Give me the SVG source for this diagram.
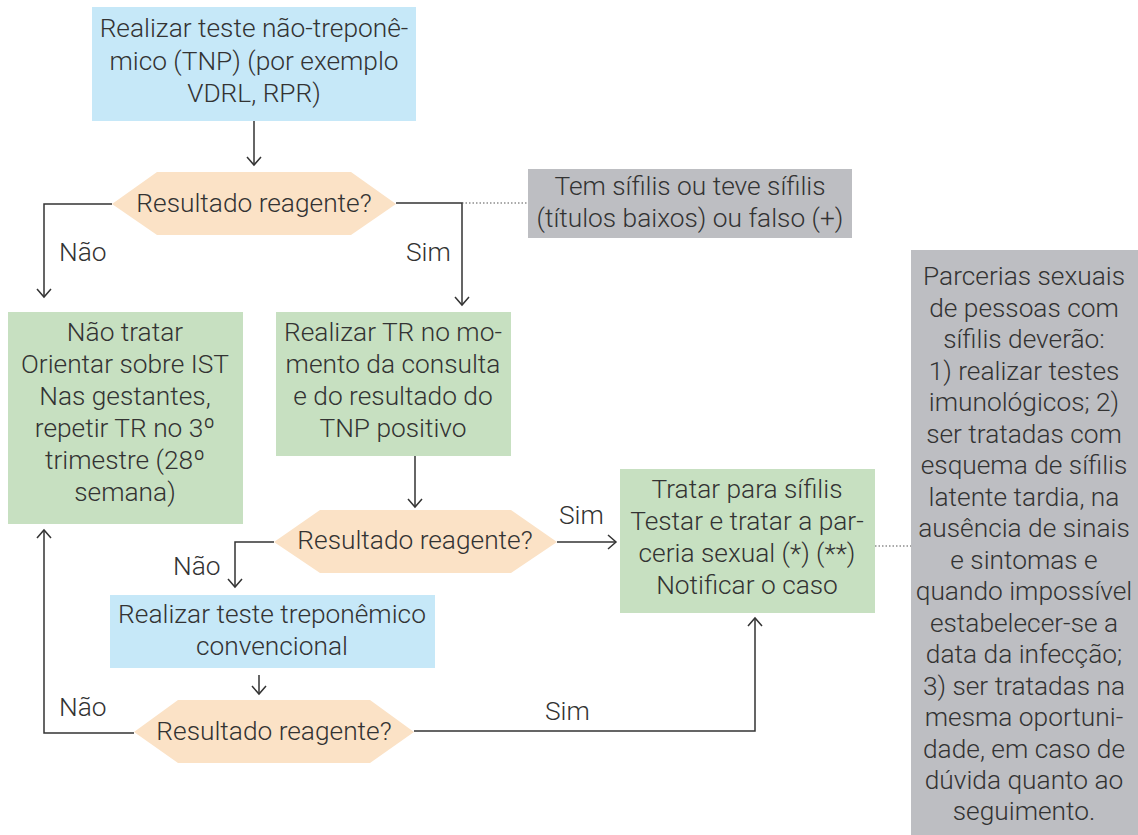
<svg xmlns="http://www.w3.org/2000/svg" width="1138" height="835" viewBox="0 0 1138 835">
<style>
text{font-family:Roboto,"Liberation Sans",sans-serif;font-weight:300;font-size:26.3px;fill:#333;text-anchor:middle}
.blue{fill:#c6e8f8}
.hex{fill:#fbe2c6}
.green{fill:#c7e0c1}
.grey{fill:#bdbec2}
.ln{fill:none;stroke:#333;stroke-width:1.5}
.dot{fill:none;stroke:#555;stroke-width:1.2;stroke-dasharray:1.5 2}
.lbl{text-anchor:start}
</style>
<defs>
<marker id="arr" markerUnits="userSpaceOnUse" markerWidth="20" markerHeight="20" viewBox="-10 -10 20 20" refX="0" refY="0" orient="auto">
<path d="M-8,-7 L0,0 L-8,7" fill="none" stroke="#333" stroke-width="1.5"/>
</marker>
</defs>
<rect width="1138" height="835" fill="#fff"/>
<g id="connectors">
<line class="ln" x1="254" y1="121" x2="254" y2="165" marker-end="url(#arr)"/>
<polyline class="ln" points="112,204 44,204 44,297" marker-end="url(#arr)"/>
<polyline class="ln" points="396,203 462,203 462,305" marker-end="url(#arr)"/>
<line class="dot" x1="462" y1="203" x2="528" y2="203"/>
<line class="ln" x1="415" y1="456" x2="415" y2="507" marker-end="url(#arr)"/>
<polyline class="ln" points="274,542 235,542 235,587" marker-end="url(#arr)"/>
<line class="ln" x1="557" y1="542" x2="616" y2="542" marker-end="url(#arr)"/>
<line class="ln" x1="259" y1="675" x2="259" y2="694" marker-end="url(#arr)"/>
<polyline class="ln" points="134,733 44,733 44,530" marker-end="url(#arr)"/>
<polyline class="ln" points="414,731 755,731 755,618" marker-end="url(#arr)"/>
<line class="dot" x1="875" y1="546" x2="911" y2="546"/>
<text class="lbl" x="59" y="261">Não</text>
<text class="lbl" x="406" y="261">Sim</text>
<text class="lbl" x="173" y="575">Não</text>
<text class="lbl" x="559" y="524">Sim</text>
<text class="lbl" x="59" y="716">Não</text>
<text class="lbl" x="545" y="720">Sim</text>
</g>
<g id="n1">
<rect class="blue" x="92" y="7" width="324" height="114"/>
<text x="254" y="37">Realizar teste não-treponê-</text>
<text x="254" y="69.5">mico (TNP) (por exemplo</text>
<text x="254" y="102">VDRL, RPR)</text>
</g>
<g id="d1">
<polygon class="hex" points="112,204 157,172 351,172 396,204 351,235 157,235"/>
<text x="254" y="212">Resultado reagente?</text>
</g>
<g id="note1">
<rect class="grey" x="528" y="169" width="324" height="69"/>
<text x="690" y="195">Tem sífilis ou teve sífilis</text>
<text x="690" y="227">(títulos baixos) ou falso (+)</text>
</g>
<g id="n2">
<rect class="green" x="8" y="312" width="235" height="212"/>
<text x="125" y="341">Não tratar</text>
<text x="125" y="373">Orientar sobre IST</text>
<text x="125" y="405">Nas gestantes,</text>
<text x="125" y="437">repetir TR no 3º</text>
<text x="125" y="469">trimestre (28º</text>
<text x="125" y="501">semana)</text>
</g>
<g id="n3">
<rect class="green" x="276" y="312" width="235" height="144"/>
<text x="393" y="341">Realizar TR no mo-</text>
<text x="393" y="373">mento da consulta</text>
<text x="393" y="405">e do resultado do</text>
<text x="393" y="437">TNP positivo</text>
</g>
<g id="d2">
<polygon class="hex" points="274,542 320,510 511,510 557,542 511,573 320,573"/>
<text x="415" y="549">Resultado reagente?</text>
</g>
<g id="n4">
<rect class="blue" x="110" y="595" width="325" height="73"/>
<text x="272" y="623">Realizar teste treponêmico</text>
<text x="272" y="655">convencional</text>
</g>
<g id="d3">
<polygon class="hex" points="134,732 178,700 370,700 414,732 370,763 178,763"/>
<text x="274" y="740">Resultado reagente?</text>
</g>
<g id="n5">
<rect class="green" x="620" y="469" width="255" height="144"/>
<text x="747" y="498">Tratar para sífilis</text>
<text x="747" y="530">Testar e tratar a par-</text>
<text x="747" y="562">ceria sexual (*) (**)</text>
<text x="747" y="594">Notificar o caso</text>
</g>
<g id="note2">
<rect class="grey" x="911" y="250" width="227" height="585"/>
<text x="1024" y="285">Parcerias sexuais</text>
<text x="1024" y="316.5">de pessoas com</text>
<text x="1024" y="348">sífilis deverão:</text>
<text x="1024" y="379.5">1) realizar testes</text>
<text x="1024" y="411">imunológicos; 2)</text>
<text x="1024" y="442.5">ser tratadas com</text>
<text x="1024" y="474">esquema de sífilis</text>
<text x="1024" y="505.5">latente tardia, na</text>
<text x="1024" y="537">ausência de sinais</text>
<text x="1024" y="568.5">e sintomas e</text>
<text x="1024" y="600">quando impossível</text>
<text x="1024" y="631.5">estabelecer-se a</text>
<text x="1024" y="663">data da infecção;</text>
<text x="1024" y="694.5">3) ser tratadas na</text>
<text x="1024" y="726">mesma oportuni-</text>
<text x="1024" y="757.5">dade, em caso de</text>
<text x="1024" y="789">dúvida quanto ao</text>
<text x="1024" y="820">seguimento.</text>
</g>
</svg>
